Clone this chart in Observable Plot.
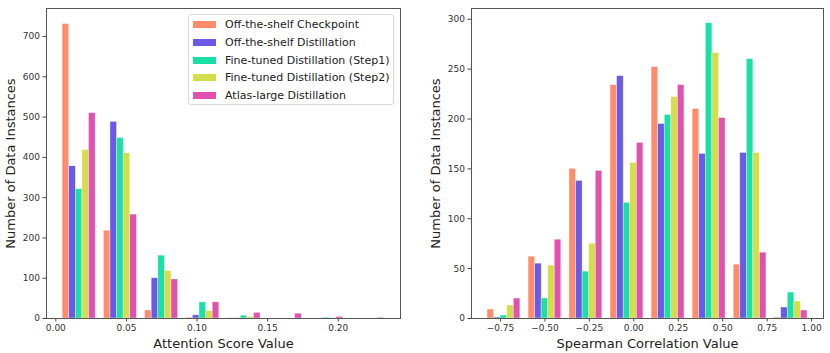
<!DOCTYPE html>
<html>
<head>
<meta charset="utf-8">
<script src="https://cdn.jsdelivr.net/npm/d3@7"></script>
<script src="https://cdn.jsdelivr.net/npm/@observablehq/plot@0.6"></script>
<style>
  html, body { margin: 0; padding: 0; background: #fff; }
  #wrap { position: relative; width: 830px; height: 353px; font-family: "DejaVu Sans", sans-serif; }
  #left, #right { position: absolute; top: 0; }
  #left { left: 0; }
  #right { left: 415px; }
  #legend { position: absolute; left: 188px; top: 14px; width: 204px; height: 89px;
    border: 1px solid #d9d9d9; border-radius: 3px; background: rgba(255,255,255,0.85);
    font-size: 11px; color: #222; }
  .row { position: absolute; left: 0; height: 18px; display: flex; align-items: center; white-space: nowrap; }
  .sw { width: 23px; height: 7px; margin-left: 4px; margin-right: 9px; }
</style>
</head>
<body>
<div id="wrap">
  <div id="left"></div>
  <div id="right"></div>
  <div id="legend"></div>
</div>
<script>
const seriesNames = [
  "Off-the-shelf Checkpoint",
  "Off-the-shelf Distillation",
  "Fine-tuned Distillation (Step1)",
  "Fine-tuned Distillation (Step2)",
  "Atlas-large Distillation"
];
const seriesColors = ["#ff8c6b", "#6b5ae6", "#1adfa6", "#d4dd4b", "#e052ad"];

// Left: attention score histogram (8 bins)
const attnEdges = [0.0019, 0.0311, 0.0603, 0.0895, 0.1187, 0.1479, 0.1771, 0.2063, 0.2355];
const attnCheckpoint = [731, 218, 20, 2, 1, 0, 0, 0];
const attnDistill    = [378, 488, 100, 8, 1, 0, 0, 0];
const attnStep1      = [321, 448, 156, 40, 7, 0, 2, 0];
const attnStep2      = [418, 410, 118, 18, 4, 0, 0, 0];
const attnAtlas      = [510, 258, 97, 40, 14, 12, 4, 2];
const attnXTicks = [0, 0.05, 0.10, 0.15, 0.20];
const attnYTicks = [0, 100, 200, 300, 400, 500, 600, 700];

// Right: Spearman correlation histogram (8 bins)
const spearEdges = [-0.846, -0.615, -0.385, -0.154, 0.077, 0.308, 0.539, 0.769, 1.000];
const spearCheckpoint = [9, 62, 150, 234, 252, 210, 54, 1];
const spearDistill    = [1, 55, 138, 243, 195, 165, 166, 11];
const spearStep1      = [3, 20, 47, 116, 204, 296, 260, 26];
const spearStep2      = [13, 53, 75, 156, 222, 266, 166, 17];
const spearAtlas      = [20, 79, 148, 176, 234, 201, 66, 8];
const spearXTicks = [-0.75, -0.5, -0.25, 0, 0.25, 0.5, 0.75, 1.0];
const spearYTicks = [0, 50, 100, 150, 200, 250, 300];

function toBars(edges, seriesList) {
  const n = seriesList.length;
  const out = [];
  seriesList.forEach((vals, s) => {
    vals.forEach((v, b) => {
      const w = edges[b + 1] - edges[b];
      const bw = 0.8 * w / n;
      const x1 = edges[b] + 0.1 * w + s * bw;
      if (v > 0) out.push({x1, x2: x1 + bw, y: v, series: seriesNames[s]});
    });
  });
  return out;
}

function chart({bars, xDomain, yDomain, xTicks, yTicks, xLabel, yLabel, marginLeft, marginRight}) {
  return Plot.plot({
    width: 415,
    height: 353,
    marginLeft, marginRight,
    marginTop: 8,
    marginBottom: 35,
    style: {fontFamily: "DejaVu Sans, sans-serif", fontSize: "9px", color: "#333", background: "transparent"},
    x: {domain: xDomain},
    y: {domain: yDomain},
    color: {domain: seriesNames, range: seriesColors},
    marks: [
      Plot.rectY(bars, {x1: "x1", x2: "x2", y1: 0, y2: "y", fill: "series", stroke: "#fff", strokeWidth: 0.6, strokeOpacity: 0.6}),
      Plot.axisX({ticks: xTicks, tickFormat: d3.format(".2f"), tickSize: 3.5, tickPadding: 3, fontSize: 9, label: null, stroke: "#444"}),
      Plot.axisY({ticks: yTicks, tickFormat: d3.format("d"), tickSize: 3.5, tickPadding: 3, fontSize: 9, label: null, stroke: "#444"}),
      Plot.frame({stroke: "#555", strokeWidth: 1}),
      Plot.text([xLabel], {frameAnchor: "bottom", textAnchor: "middle", dy: 25.5, lineAnchor: "middle", fontSize: 13, fill: "#222"}),
      Plot.text([yLabel], {frameAnchor: "left", textAnchor: "middle", dx: -36, rotate: -90, lineAnchor: "middle", fontSize: 13, fill: "#222"})
    ]
  });
}

document.getElementById("left").appendChild(chart({
  bars: toBars(attnEdges, [attnCheckpoint, attnDistill, attnStep1, attnStep2, attnAtlas]),
  xDomain: [-0.0066, 0.2441],
  yDomain: [0, 769.6],
  xTicks: attnXTicks, yTicks: attnYTicks,
  xLabel: "Attention Score Value",
  yLabel: "Number of Data Instances",
  marginLeft: 46, marginRight: 15
}));

document.getElementById("right").appendChild(chart({
  bars: toBars(spearEdges, [spearCheckpoint, spearDistill, spearStep1, spearStep2, spearAtlas]),
  xDomain: [-0.913, 1.067],
  yDomain: [0, 310.8],
  xTicks: spearXTicks, yTicks: spearYTicks,
  xLabel: "Spearman Correlation Value",
  yLabel: "Number of Data Instances",
  marginLeft: 56, marginRight: 7
}));

const legend = document.getElementById("legend");
const rowTops = [0.3, 18, 36, 53.3, 71];
seriesNames.forEach((name, i) => {
  const row = document.createElement("div");
  row.className = "row";
  row.style.top = rowTops[i] + "px";
  const sw = document.createElement("div");
  sw.className = "sw";
  sw.style.background = seriesColors[i];
  const tx = document.createElement("span");
  tx.textContent = name;
  row.appendChild(sw);
  row.appendChild(tx);
  legend.appendChild(row);
});
</script>
</body>
</html>
